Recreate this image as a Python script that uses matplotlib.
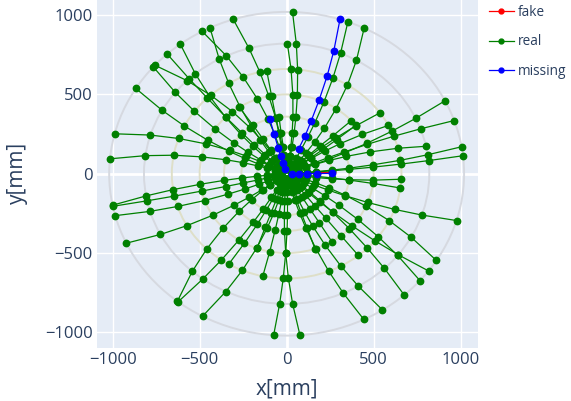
import numpy as np
import matplotlib
matplotlib.use("Agg")
import matplotlib.pyplot as plt
from matplotlib.patches import Circle
from matplotlib.lines import Line2D

plt.rcParams["font.family"] = ["Open Sans", "DejaVu Sans"]

# detector layer radii [mm]
LAYER_R = [32, 72, 116, 172, 260, 360, 500, 660, 820, 1020]
SS_LAYERS = [260, 360, 500, 660]
LS_LAYERS = [820, 1020]
PIX_LAYERS = [32, 72, 116, 172]

# real tracks: phi [deg] of the hit on each layer, starting at the innermost layer
real_phi = [
    [78.2, 78.6, 79.1, 79.6, 80.5, 81.5, 82.9, 84.5, 86.1, 88.1],
    [80.2, 80.7, 81.3, 81.9, 83.0, 84.2, 85.9, 87.8, 89.7],
    [59.9, 60.3, 60.8, 61.3, 62.2, 63.2, 64.6, 66.2, 67.8, 69.8],
    [47.3, 48.0, 48.7, 49.7, 51.2, 52.9, 55.3, 58.0, 60.7, 64.1],
    [18.9, 19.2, 19.6, 20.0, 20.7, 21.5, 22.6, 23.9, 25.2, 26.8],
    [24.1, 23.9, 23.7, 23.4, 23.0, 22.5, 21.8, 21.0, 20.2, 19.2],
    [3.7, 3.9, 4.2, 4.5, 5.0, 5.6, 6.5, 7.4, 8.4, 9.6],
    [3.4, 3.6, 3.7, 3.9, 4.1, 4.4, 4.8, 5.3, 5.8, 6.4],
    [21.7, 21.2, 20.6, 20.0, 18.9, 17.7, 16.0, 14.1, 12.2],
    [41.9, 41.5, 41.0, 40.5, 39.6, 38.6, 37.2, 35.6],
    [36.3, 35.7, 35.1, 34.3, 33.1, 31.7, 29.7, 27.5],
    [43.0, 43.0, 43.0, 42.5, 42.5, 42.0, 42.0],
    [35.2, 35.4, 35.6, 35.9, 36.3, 36.8, 37.5],
    [96.6, 97.1, 97.6, 98.2, 99.1, 100.2, 101.8, 103.5, 105.3, 107.5],
    [128.4, 127.9, 127.4, 126.6, 125.5, 124.2, 122.4, 120.3, 118.2, 115.6],
    [101.6, 102.3, 103.0, 104.0, 105.5, 107.2, 109.6, 112.3, 115.0, 118.4],
    [141.6, 141.0, 140.4, 139.5, 138.2, 136.7, 134.6, 132.2, 129.8, 126.8],
    [136.3, 136.1, 135.9, 135.7, 135.3, 134.9, 134.4, 133.7, 133.1, 132.3],
    [120.1, 120.8, 121.6, 122.6, 124.2, 126.0, 128.5, 131.4, 134.3, 137.9],
    [151.5, 151.0, 150.5, 149.7, 148.6, 147.3, 145.5, 143.4, 141.3, 138.7],
    [161.0, 160.5, 160.0, 159.2, 158.1, 156.8, 155.0, 152.9, 150.8, 148.2],
    [150.9, 151.5, 152.1, 153.0, 154.3, 155.8, 157.9, 160.3, 162.7, 165.7],
    [161.4, 161.9, 162.5, 163.3, 164.4, 165.8, 167.7, 169.8, 172.0, 174.7],
    [96.0, 96.0, 96.5, 96.5, 97.0, 97.0],
    [120.7, 120.9, 121.1, 121.4, 121.8, 122.3, 123.0],
    [100.5, 100.5, 100.5, 100.0, 100.0, 100.0, 100.0, 100.0],
    [184.3, 184.6, 184.9, 185.3, 185.9, 186.6, 187.6, 188.7, 189.8, 191.2],
    [193.6, 193.5, 193.4, 193.3, 193.1, 192.9, 192.6, 192.3, 192.0, 191.6],
    [203.9, 203.5, 203.1, 202.6, 201.8, 200.9, 199.7, 198.2, 196.8, 195.0],
    [217.3, 216.8, 216.2, 215.6, 214.5, 213.3, 211.6, 209.7, 207.8, 205.4],
    [215.2, 215.9, 216.6, 217.6, 219.1, 220.8, 223.2, 225.9, 228.6, 232.0],
    [240.7, 240.4, 240.0, 239.5, 238.8, 237.9, 236.7, 235.4, 234.0, 232.3],
    [257.0, 256.4, 255.7, 254.8, 253.5, 251.9, 249.8, 247.3, 244.8, 241.7],
    [244.7, 244.4, 244.1, 243.6, 242.9, 242.1, 241.0, 239.7],
    [272.7, 272.4, 272.1, 271.7, 271.1, 270.4, 269.4, 268.3, 267.2, 265.8],
    [264.9, 265.3, 265.7, 266.2, 267.1, 268.0, 269.4, 270.9, 272.4, 274.3],
    [250.5, 250.5, 250.5, 250.0, 250.0, 250.0, 250.0],
    [261.1, 260.9, 260.7, 260.4, 260.0, 259.5, 258.8, 258.0],
    [283.9, 284.4, 285.0, 285.6, 286.7, 287.9, 289.6, 291.5, 293.4, 295.8],
    [290.3, 290.8, 291.4, 292.1, 293.2, 294.4, 296.2, 298.2, 300.2, 302.7],
    [320.4, 320.0, 319.6, 319.1, 318.3, 317.4, 316.2, 314.7, 313.3, 311.5],
    [330.6, 330.1, 329.5, 328.9, 327.8, 326.6, 324.9, 323.0, 321.1, 318.7],
    [315.2, 315.5, 315.9, 316.3, 317.0, 317.8, 318.9, 320.2, 321.5, 323.1],
    [343.4, 342.8, 342.1, 341.2, 339.8, 338.2, 335.9, 333.4, 330.8, 327.6],
    [334.8, 335.1, 335.5, 336.0, 336.7, 337.6, 338.8, 340.1, 341.5, 343.2],
    [350.7, 351.1, 351.6, 352.1, 353.0, 354.0, 355.4, 357.0],
    [355.3, 355.1, 354.9, 354.6, 354.2, 353.7, 353.0, 352.2],
    [309.0, 309.0, 309.0, 309.0, 308.8, 308.8, 308.7, 308.7],
    [301.0, 301.0, 301.0, 301.2, 301.2, 301.3, 301.3],
    [288.5, 288.5, 288.6, 288.7, 288.8, 289.0, 289.0],
]

# missing tracks: first layer index and phi per hit
missing_start = [0, 3, 0]
missing_phi = [
    [104.5, 105.5, 107.0, 106.5, 106.0, 105.7],
    [66.3, 66.0, 67.0, 68.1, 69.3, 70.7, 72.5],
    [0.5, 0.5, 0.5, 0.5, 0.5],
]

# fake track
fake_start = 0
fake_phi = [12.0, 5.5, 3.5, 2.5, 2.0]


def hits(start, phis):
    r = np.array(LAYER_R[start:start + len(phis)])
    p = np.radians(phis)
    return r * np.cos(p), r * np.sin(p)


fig = plt.figure(figsize=(5.71, 4.01), dpi=100)
ax = fig.add_axes([97 / 571, 1 - 348 / 401, 381 / 571, 348 / 401])
ax.set_facecolor("#E5ECF6")

for r in PIX_LAYERS + LS_LAYERS:
    ax.add_patch(Circle((0, 0), r, fill=False, ec="#d6d9e0", lw=1.4, zorder=1))
for r in SS_LAYERS:
    ax.add_patch(Circle((0, 0), r, fill=False, ec="#dedfc8", lw=1.4, zorder=1))

kw = dict(lw=0.9, marker="o", ms=4.6, zorder=3)
x, y = hits(fake_start, fake_phi)
ax.plot(x, y, color="red", **kw)
for ph in real_phi:
    x, y = hits(0, ph)
    ax.plot(x, y, color="green", **kw)
for s, ph in zip(missing_start, missing_phi):
    x, y = hits(s, ph)
    ax.plot(x, y, color="blue", **kw)

ax.set_xlim(-1090, 1100)
ax.set_ylim(-1098, 1095)
ax.set_xticks([-1000, -500, 0, 500, 1000])
ax.set_yticks([-1000, -500, 0, 500, 1000])
ax.grid(True, color="white", lw=1)
ax.axhline(0, color="white", lw=2, zorder=0.5)
ax.axvline(0, color="white", lw=2, zorder=0.5)
ax.set_axisbelow(True)
for sp in ax.spines.values():
    sp.set_visible(False)
ax.tick_params(length=0, pad=3, labelsize=12, labelcolor="#2a3f5f")

fig.text(287 / 571, 1 - 389 / 401, "x[mm]", ha="center", va="center",
         fontsize=15, color="#2a3f5f")
fig.text(17.5 / 571, 1 - 173 / 401, "y[mm]", ha="center", va="center",
         rotation=90, fontsize=15, color="#2a3f5f")

handles = [Line2D([], [], color=c, lw=0.9, marker="o", ms=3.5)
           for c in ["red", "green", "blue"]]
fig.legend(handles, ["fake", "real", "missing"], loc="upper left",
           bbox_to_anchor=(489 / 571, 1 - 5 / 401), frameon=False,
           fontsize=9.8, labelcolor="#2a3f5f", handlelength=1.8,
           handletextpad=0.35, labelspacing=1.05, borderpad=0, borderaxespad=0)

fig.savefig("out.png", dpi=100)
